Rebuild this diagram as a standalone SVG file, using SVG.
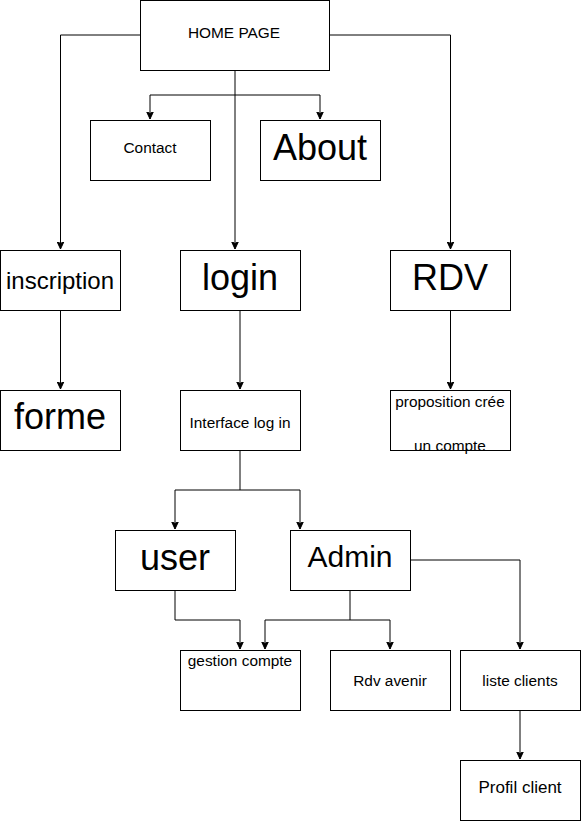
<svg xmlns="http://www.w3.org/2000/svg" width="581" height="821" viewBox="0 0 581 821">
<style>
.box{fill:#fff;stroke:#000;stroke-width:1}
.t{font-family:"Liberation Sans",Arial,sans-serif;fill:#000;text-anchor:middle;dominant-baseline:central}
.s14{font-size:15.4px}
.s17{font-size:17px}
.s24{font-size:24px}
.s36{font-size:36px}
.s30{font-size:30px}
.e{fill:none;stroke:#000;stroke-width:1}
</style>
<defs>
<marker id="a" viewBox="0 0 8 8" refX="7.5" refY="4" markerWidth="8" markerHeight="8" markerUnits="userSpaceOnUse" orient="auto">
<path d="M0,0.5 L7.5,4 L0,7.5 L2,4 z" fill="#000" stroke="#000" stroke-width="1"/>
</marker>
</defs>
<rect width="581" height="821" fill="#fff"/>
<g id="edges">
<path class="e" d="M235,70 V249" marker-end="url(#a)"/>
<path class="e" d="M235,95 H150 V119" marker-end="url(#a)"/>
<path class="e" d="M235,95 H320 V119" marker-end="url(#a)"/>
<path class="e" d="M140,35 H60.5 V249" marker-end="url(#a)"/>
<path class="e" d="M330,35 H450.5 V249" marker-end="url(#a)"/>
<path class="e" d="M60.5,310 V389" marker-end="url(#a)"/>
<path class="e" d="M240,310 V389" marker-end="url(#a)"/>
<path class="e" d="M450.5,310 V389" marker-end="url(#a)"/>
<path class="e" d="M240,450 V490 H175 V529" marker-end="url(#a)"/>
<path class="e" d="M240,490 H300 V529" marker-end="url(#a)"/>
<path class="e" d="M175,590 V620 H240 V649" marker-end="url(#a)"/>
<path class="e" d="M350,590 V620 H265 V649" marker-end="url(#a)"/>
<path class="e" d="M350,620 H390 V649" marker-end="url(#a)"/>
<path class="e" d="M410,560 H520 V649" marker-end="url(#a)"/>
<path class="e" d="M520,710 V759" marker-end="url(#a)"/>
</g>
<g id="home"><rect class="box" x="140.5" y="0.5" width="189" height="70"/><text class="t s14" x="234" y="32">HOME PAGE</text></g>
<g id="contact"><rect class="box" x="90.5" y="120.5" width="120" height="60"/><text class="t s14" x="150" y="147">Contact</text></g>
<g id="about"><rect class="box" x="260.5" y="120.5" width="120" height="60"/><text class="t s36" x="320" y="147">About</text></g>
<g id="inscription"><rect class="box" x="0.5" y="250.5" width="120" height="60"/><text class="t s24" x="60" y="280">inscription</text></g>
<g id="login"><rect class="box" x="180.5" y="250.5" width="120" height="60"/><text class="t s36" x="240" y="277">login</text></g>
<g id="rdv"><rect class="box" x="390.5" y="250.5" width="120" height="60"/><text class="t s36" x="450" y="277">RDV</text></g>
<g id="forme"><rect class="box" x="0.5" y="390.5" width="120" height="60"/><text class="t s36" x="60" y="416">forme</text></g>
<g id="interface"><rect class="box" x="180.5" y="390.5" width="120" height="60"/><text class="t s14" x="240" y="422">Interface log in</text></g>
<g id="proposition"><rect class="box" x="390.5" y="390.5" width="120" height="60"/><text class="t s14" x="450" y="401">proposition crée</text><text class="t s14" x="450" y="445">un compte</text></g>
<g id="user"><rect class="box" x="115.5" y="530.5" width="120" height="60"/><text class="t s36" x="175" y="557">user</text></g>
<g id="admin"><rect class="box" x="290.5" y="530.5" width="120" height="60"/><text class="t s30" x="350" y="556">Admin</text></g>
<g id="gestion"><rect class="box" x="180.5" y="650.5" width="120" height="60"/><text class="t s14" x="240" y="660">gestion compte</text></g>
<g id="rdvavenir"><rect class="box" x="330.5" y="650.5" width="120" height="60"/><text class="t s14" x="390" y="680">Rdv avenir</text></g>
<g id="liste"><rect class="box" x="460.5" y="650.5" width="120" height="60"/><text class="t s14" x="520" y="680">liste clients</text></g>
<g id="profil"><rect class="box" x="460.5" y="760.5" width="120" height="60"/><text class="t s17" x="520" y="787">Profil client</text></g>
</svg>
